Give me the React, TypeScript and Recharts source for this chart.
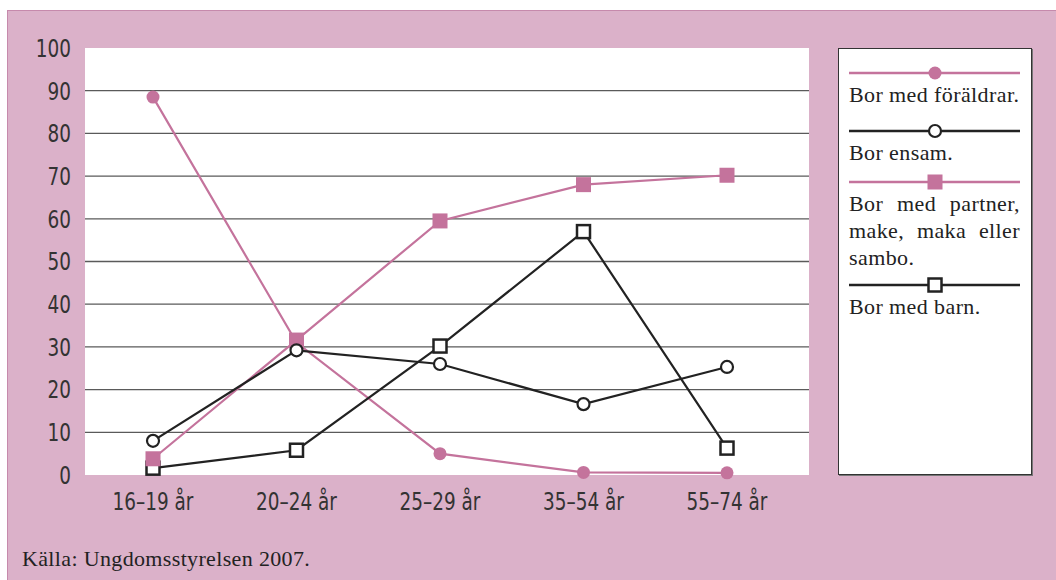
import React from 'react';
import { LineChart, Line, XAxis, YAxis, CartesianGrid, ReferenceLine } from 'recharts';

const categories = ['16–19 år', '20–24 år', '25–29 år', '35–54 år', '55–74 år'];
const foraldrar = [88.5, 31, 5, 0.6, 0.5];
const ensam = [8, 29.2, 26, 16.6, 25.3];
const partner = [3.8, 31.6, 59.5, 68, 70.2];
const barn = [1.6, 5.8, 30.2, 57, 6.3];
const yTicks = [0, 10, 20, 30, 40, 50, 60, 70, 80, 90, 100];
const gridValues = [10, 20, 30, 40, 50, 60, 70, 80, 90];
const sourceText = 'Källa: Ungdomsstyrelsen 2007.';

const PINK = '#c4739c';
const DARK = '#222222';
const BG = '#dbb1c9';

const data = categories.map((c, i) => ({
  cat: c,
  foraldrar: foraldrar[i],
  ensam: ensam[i],
  partner: partner[i],
  barn: barn[i],
}));

type Marker = 'filledCircle' | 'openCircle' | 'filledSquare' | 'openSquare';

const series: { key: string; name: string; color: string; marker: Marker }[] = [
  { key: 'foraldrar', name: 'Bor med föräldrar.', color: PINK, marker: 'filledCircle' },
  { key: 'ensam', name: 'Bor ensam.', color: DARK, marker: 'openCircle' },
  { key: 'partner', name: 'Bor med partner, make, maka eller sambo.', color: PINK, marker: 'filledSquare' },
  { key: 'barn', name: 'Bor med barn.', color: DARK, marker: 'openSquare' },
];
const legendGaps = [15, 8, 6, 0];

const drawMarker = (m: Marker, color: string, cx: number, cy: number, key?: any) => {
  if (m === 'filledCircle') return <circle key={key} cx={cx} cy={cy} r={6.5} fill={color} />;
  if (m === 'openCircle')
    return <circle key={key} cx={cx} cy={cy} r={6} fill="#fff" stroke={color} strokeWidth={2.2} />;
  if (m === 'filledSquare')
    return <rect key={key} x={cx - 7.5} y={cy - 7.5} width={15} height={15} fill={color} />;
  return (
    <rect key={key} x={cx - 6.5} y={cy - 6.5} width={13} height={13} fill="#fff" stroke={color} strokeWidth={2.5} />
  );
};

const dotFor = (m: Marker, color: string) => (p: any) =>
  p.cx == null || p.cy == null ? <g key={p.index} /> : drawMarker(m, color, p.cx, p.cy, p.index);

const tickFont = "'Liberation Sans Narrow', 'DejaVu Sans Condensed', 'Arial Narrow', sans-serif";
const serifFont = "'Liberation Serif', 'DejaVu Serif', serif";

const NarrowTick = (props: any) => {
  const { x, y, payload, textAnchor, verticalAnchor } = props;
  const dy = verticalAnchor === 'start' ? '0.71em' : '0.355em';
  return (
    <g transform={`translate(${x},${y}) scale(0.82,1)`}>
      <text x={0} y={0} dy={dy} textAnchor={textAnchor} fill="#333" fontSize={25} fontFamily={tickFont}>
        {payload.value}
      </text>
    </g>
  );
};

const drawOrder = ['foraldrar', 'barn', 'partner', 'ensam'];

export default function App() {
  return (
    <div style={{ position: 'absolute', left: 0, top: 0, width: 1056, height: 580, background: '#fff', overflow: 'hidden' }}>
      <div
        style={{
          position: 'absolute',
          left: 7,
          top: 10,
          width: 1049,
          height: 570,
          background: BG,
          borderLeft: '1.5px solid #c68aac',
          borderTop: '1.5px solid #c68aac',
          boxSizing: 'border-box',
        }}
      />
      <div style={{ position: 'absolute', left: 0, top: 0 }}>
        <LineChart width={1056} height={580} data={data} margin={{ top: 48, right: 247, bottom: 65, left: 25 }}>
          <CartesianGrid fill="#fff" horizontal={false} vertical={false} stroke="none" />
          {gridValues.map((v) => (
            <ReferenceLine key={v} y={v} stroke="#5a5a5a" strokeWidth={1.3} ifOverflow="visible" />
          ))}
          <XAxis
            dataKey="cat"
            scale="point"
            padding={{ left: 68, right: 82 }}
            axisLine={false}
            tickLine={false}
            tickSize={0}
            tickMargin={17}
            height={40}
            interval={0}
            tick={<NarrowTick />}
          />
          <YAxis
            domain={[0, 100]}
            ticks={yTicks}
            interval={0}
            width={60}
            axisLine={false}
            tickLine={false}
            tickSize={0}
            tickMargin={14}
            tick={<NarrowTick />}
          />
          {drawOrder.map((k) => {
            const s = series.find((x) => x.key === k)!;
            return (
              <Line
                key={s.key}
                type="linear"
                dataKey={s.key}
                name={s.name}
                stroke={s.color}
                strokeWidth={2.2}
                dot={dotFor(s.marker, s.color)}
                activeDot={false}
                isAnimationActive={false}
              />
            );
          })}
        </LineChart>
      </div>
      <div
        style={{
          position: 'absolute',
          left: 838,
          top: 48,
          width: 194,
          height: 427,
          background: '#fff',
          border: '1px solid #333',
          boxShadow: '1px 1px 0 #777',
          boxSizing: 'border-box',
          paddingTop: 16,
          paddingLeft: 10,
        }}
      >
        {series.map((s, i) => (
          <div key={s.key} style={{ marginBottom: legendGaps[i], width: 171 }}>
            <svg width={171} height={16} style={{ display: 'block' }}>
              <line x1={0} y1={8} x2={171} y2={8} stroke={s.color} strokeWidth={2.5} />
              {drawMarker(s.marker, s.color, 86, 8)}
            </svg>
            <div
              style={{
                fontFamily: serifFont,
                fontSize: 22,
                lineHeight: '27px',
                letterSpacing: 0.4,
                color: '#222',
                textAlign: 'justify',
                textAlignLast: 'left',
              }}
            >
              {s.name}
            </div>
          </div>
        ))}
      </div>
      <div
        style={{
          position: 'absolute',
          left: 22,
          top: 546,
          fontFamily: serifFont,
          fontSize: 22,
          letterSpacing: 0.35,
          color: '#222',
          whiteSpace: 'nowrap',
        }}
      >
        {sourceText}
      </div>
    </div>
  );
}
